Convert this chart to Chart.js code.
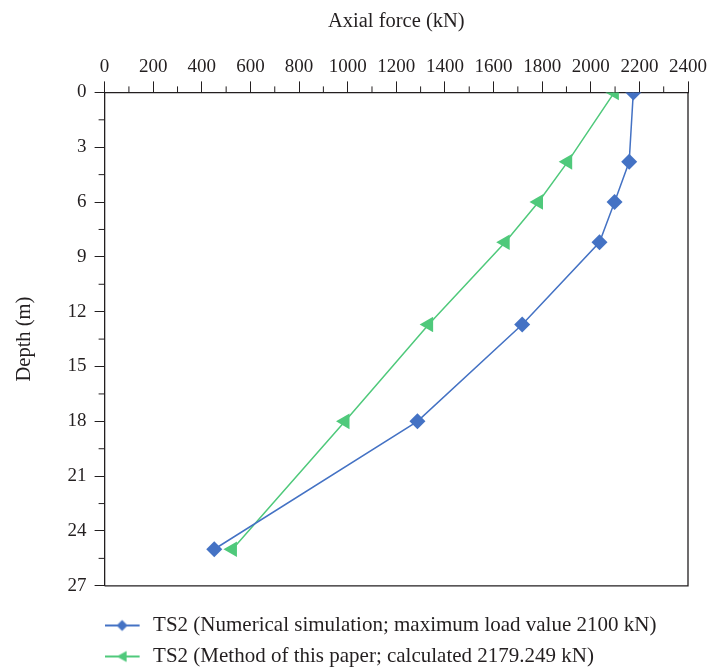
<!DOCTYPE html>
<html>
<head>
<meta charset="utf-8">
<script src="https://cdn.jsdelivr.net/npm/chart.js@4.4.1/dist/chart.umd.min.js"></script>
<style>
  body { margin: 0; background: #fff; }
  #wrap { width: 713px; height: 667px; }
</style>
</head>
<body>
<div id="wrap"><canvas id="chart" width="713" height="667"></canvas></div>
<script>
// Axial force vs depth, TS2

const depths = [0, 3.8, 6, 8.2, 12.7, 18, 25];
const simForce = [2175, 2158, 2098, 2036, 1718, 1287, 451];
const paperForce = [2097, 1905, 1785, 1648, 1333, 989, 526];

const forceTicks = [0, 200, 400, 600, 800, 1000, 1200, 1400, 1600, 1800, 2000, 2200, 2400];
const depthTicks = [0, 3, 6, 9, 12, 15, 18, 21, 24, 27];

const seriesNames = [
    'TS2 (Numerical simulation; maximum load value 2100 kN)',
    'TS2 (Method of this paper; calculated 2179.249 kN)'
];

const blue = '#4472c4';
const green = '#4fc97b';
const ink = '#231f20';
const fontFamily = '"Liberation Serif", "DejaVu Serif", serif';

// legend sample: short line with the marker in the middle, transparent space on the right
function legendSample(color, diamond) {
    const c = document.createElement('canvas');
    c.width = 48;
    c.height = 16;
    const g = c.getContext('2d');
    g.strokeStyle = color;
    g.lineWidth = 1.8;
    g.beginPath();
    g.moveTo(0, 8);
    g.lineTo(35, 8);
    g.stroke();
    g.fillStyle = color;
    g.beginPath();
    if (diamond) {
        g.moveTo(17.5, 2.5); g.lineTo(23, 8); g.lineTo(17.5, 13.5); g.lineTo(12, 8);
    } else {
        g.moveTo(12, 8); g.lineTo(22, 2.5); g.lineTo(22, 13.5);
    }
    g.closePath();
    g.fill();
    return c;
}

// frame on right/bottom + minor ticks halfway between the major ones
const framePlugin = {
    id: 'frame',
    afterDraw(chart) {
        const { ctx, chartArea: a, scales } = chart;
        ctx.save();
        ctx.strokeStyle = ink;
        ctx.lineWidth = 1.3;
        ctx.beginPath();
        ctx.moveTo(a.left, a.bottom);
        ctx.lineTo(a.right, a.bottom);
        ctx.lineTo(a.right, a.top);
        ctx.stroke();
        ctx.lineWidth = 1;
        ctx.beginPath();
        for (let i = 0; i < forceTicks.length - 1; i++) {
            const px = scales.x.getPixelForValue((forceTicks[i] + forceTicks[i + 1]) / 2);
            ctx.moveTo(px, a.top);
            ctx.lineTo(px, a.top - 6);
        }
        for (let i = 0; i < depthTicks.length - 1; i++) {
            const py = scales.y.getPixelForValue((depthTicks[i] + depthTicks[i + 1]) / 2);
            ctx.moveTo(a.left, py);
            ctx.lineTo(a.left - 6, py);
        }
        ctx.stroke();
        ctx.restore();
    }
};

const ctx = document.getElementById('chart').getContext('2d');
const chart = new Chart(ctx, {
    type: 'line',
    data: {
        datasets: [
            {
                label: seriesNames[0],
                data: depths.map((d, i) => ({ x: simForce[i], y: d })),
                borderColor: blue,
                backgroundColor: blue,
                borderWidth: 1.5,
                pointStyle: 'rectRot',
                pointRadius: 8,
                pointBorderWidth: 0,
                clip: 0,
                legendImg: legendSample(blue, true)
            },
            {
                label: seriesNames[1],
                data: depths.map((d, i) => ({ x: paperForce[i], y: d })),
                borderColor: green,
                backgroundColor: green,
                borderWidth: 1.5,
                pointStyle: 'triangle',
                pointRotation: -90,
                pointRadius: 9,
                pointBorderWidth: 0,
                clip: 0,
                legendImg: legendSample(green, false)
            }
        ]
    },
    options: {
        responsive: false,
        animation: false,
        layout: { padding: { left: 4, right: 25, top: 5, bottom: -10 } },
        plugins: {
            tooltip: { enabled: false },
            legend: {
                position: 'bottom',
                align: 'start',
                fullSize: false,
                // blank title only used as a gap above the rows
                title: { display: true, text: ' ', font: { size: 1 }, padding: { top: 0, bottom: 18 } },
                labels: {
                    usePointStyle: true,
                    pointStyleWidth: 28,
                    boxHeight: 16,
                    padding: 10,
                    color: ink,
                    font: { family: fontFamily, size: 21 },
                    generateLabels(c) {
                        return c.data.datasets.map((ds, i) => ({
                            text: ds.label,
                            pointStyle: ds.legendImg,
                            fillStyle: ds.backgroundColor,
                            strokeStyle: ds.borderColor,
                            lineWidth: 0,
                            hidden: false,
                            datasetIndex: i,
                            fontColor: ink
                        }));
                    }
                }
            }
        },
        scales: {
            x: {
                type: 'linear',
                position: 'top',
                min: 0,
                max: 2400,
                afterBuildTicks(s) { s.ticks = forceTicks.map(v => ({ value: v })); },
                title: {
                    display: true,
                    text: 'Axial force (kN)',
                    color: ink,
                    font: { family: fontFamily, size: 20.5 },
                    padding: { top: 4, bottom: 19 }
                },
                ticks: {
                    color: ink,
                    font: { family: fontFamily, size: 19 },
                    padding: 3,
                    maxRotation: 0,
                    callback: v => String(v)
                },
                grid: { drawOnChartArea: false, tickLength: 11, color: ink, tickColor: ink },
                border: { color: ink, width: 1.3 }
            },
            y: {
                type: 'linear',
                reverse: true,
                min: 0,
                max: 27,
                afterBuildTicks(s) { s.ticks = depthTicks.map(v => ({ value: v })); },
                title: {
                    display: true,
                    text: 'Depth (m)',
                    color: ink,
                    font: { family: fontFamily, size: 20.5 },
                    padding: { top: 8, bottom: 23 }
                },
                ticks: {
                    color: ink,
                    font: { family: fontFamily, size: 19 },
                    padding: 8,
                    callback: v => String(v)
                },
                grid: { drawOnChartArea: false, tickLength: 10, color: ink, tickColor: ink },
                border: { color: ink, width: 1.3 }
            }
        }
    },
    plugins: [framePlugin]
});
</script>
</body>
</html>
